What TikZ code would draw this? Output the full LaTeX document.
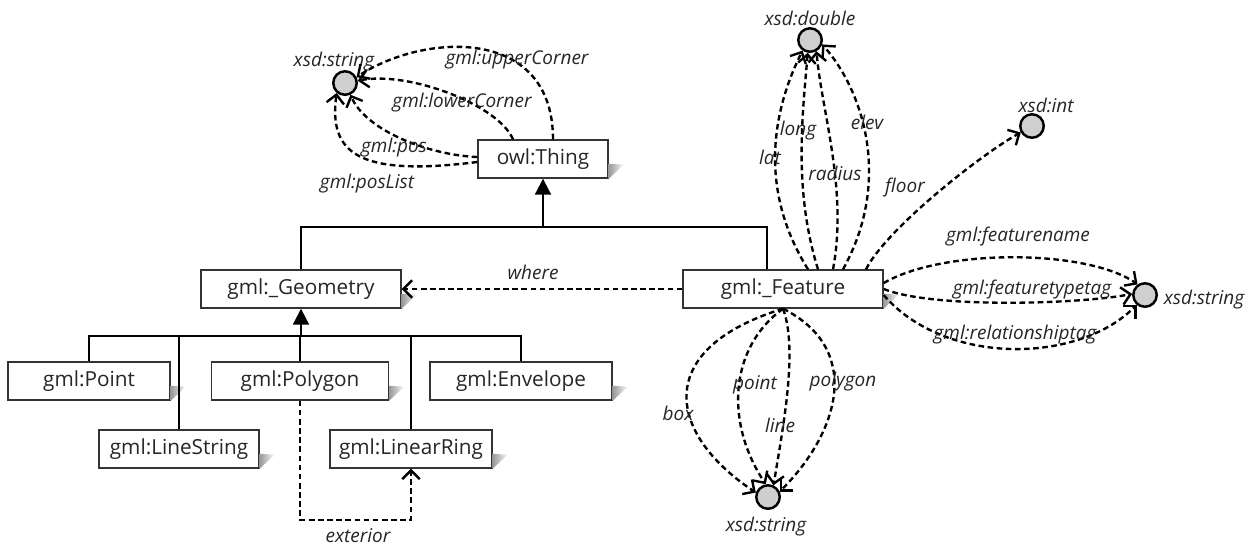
\documentclass[tikz,border=0pt]{standalone}
\usepackage{fontspec}
\setmainfont{Open Sans}
\usetikzlibrary{arrows.meta,calc}
\begin{document}
\begin{tikzpicture}[x=0.02cm,y=-0.02cm]
\tikzstyle{classbox} = [draw=black!80,line width=0.8pt,fill=white,minimum height=0.76cm,inner sep=2pt,font=\fontsize{11.8}{13}\selectfont,text=black!85] %classes
\tikzstyle{datanode} = [circle,draw=black,line width=1.4pt,fill=gray!38,minimum size=0.47cm,inner sep=0pt] %types xsd
\tikzstyle{prop} = [line width=1.35pt,dash pattern=on 3.2pt off 2pt,-{Straight Barb[length=5pt,width=10pt]}]
\tikzstyle{isa} = [line width=1.2pt]
\tikzstyle{lbl} = [font=\fontsize{10.8}{12}\selectfont\itshape,text=black!85,inner sep=1pt]
\tikzstyle{ombre} = [left color=gray!80,right color=gray!5]

\useasboundingbox (0,0) rectangle (1256,549);

%classes
\node[classbox,minimum width=2.6cm] (thing) at (543,159) {owl:Thing};
\node[classbox,minimum width=4cm] (geometry) at (301,289) {gml:\_Geometry};
\node[classbox,minimum width=4cm] (feature) at (783,289) {gml:\_Feature};
\node[classbox,minimum width=3.24cm] (point) at (89,381) {gml:Point};
\node[classbox,minimum width=3.54cm] (polygon) at (300,381) {gml:Polygon};
\node[classbox,minimum width=3.64cm] (envelope) at (521,381) {gml:Envelope};
\node[classbox,minimum width=3.2cm] (linestring) at (179,449) {gml:LineString};
\node[classbox,minimum width=3.24cm] (ring) at (411,449) {gml:LinearRing};

%ombres
\foreach \c in {thing,geometry,feature,point,polygon,envelope,linestring,ring}
  \shade[ombre] (\c.south east) -- ++(0,-15) -- ++(15,1) -- cycle;

%types de donnees
\node[datanode] (strA) at (345,83) {};
\node[datanode] (dbl) at (810,40) {};
\node[datanode] (int) at (1032,126) {};
\node[datanode] (strB) at (1145,295) {};
\node[datanode] (strC) at (768,497) {};
\node[lbl] (strAlbl) at (334,62) {xsd:string};
\node[lbl] (dbllbl) at (810,18) {xsd:double};
\node[lbl] (intlbl) at (1046,105) {xsd:int};
\node[lbl] (strBlbl) at (1204,300) {xsd:string};
\node[lbl] (strClbl) at (766,527) {xsd:string};

%heritage
\coordinate (topbar) at (543,227);
\coordinate (geobar) at (301,336);
\draw[isa,-{Triangle[length=9pt,width=9pt]}] (topbar) -- (thing.south);
\draw[isa] (geometry.north) |- (topbar) -| ($(feature.north)+(-16,0)$);
\draw[isa,-{Triangle[length=9pt,width=9pt]}] (geobar) -- (geometry.south);
\foreach \c in {point,linestring,polygon,ring,envelope}
  \draw[isa] (geobar) -| (\c.north);

%proprietes de owl:Thing
\draw[prop] ($(thing.north)+(10,0)$) .. controls +(0,-114) and +(67,-44) .. (strA.27);
\draw[prop] ($(thing.north)+(-30,0)$) .. controls +(-15,-35) and +(50,-10) .. (strA.10);
\draw[prop] ($(thing.west)+(0,-2)$) .. controls +(-50,-2) and +(15,35) .. (strA.-65);
\draw[prop] ($(thing.west)+(0,3)$) .. controls +(-120,15) and +(-8,60) .. (strA.-130);
\node[lbl] (upper) at (517,60) {gml:upperCorner};
\node[lbl] (lower) at (462,103) {gml:lowerCorner};
\node[lbl] (pos) at (394,148) {gml:pos};
\node[lbl] (poslist) at (367,184) {gml:posList};

%proprietes de gml:_Feature
\draw[prop] ($(feature.north)+(25,0)$) .. controls +(-50,-80) and +(-30,60) .. (dbl.-125);
\draw[prop] ($(feature.north)+(35,0)$) .. controls +(-25,-80) and +(-5,60) .. (dbl.-100);
\draw[prop] ($(feature.north)+(50,0)$) .. controls +(15,-80) and +(5,60) .. (dbl.-60);
\draw[prop] ($(feature.north)+(60,0)$) .. controls +(50,-90) and +(40,45) .. (dbl.-20);
\draw[prop] ($(feature.north)+(83,0)$) .. controls +(20,-40) and +(-40,22) .. (int.-150);
\node[lbl] (lat) at (770,157) {lat};
\node[lbl] (long) at (798,131) {long};
\node[lbl] (radius) at (835,173) {radius};
\node[lbl] (elev) at (867,122) {elev};
\node[lbl] (floor) at (905,188) {floor};

\draw[prop] ($(feature.east)+(0,-6)$) .. controls +(60,-35) and +(-50,-35) .. (strB.125);
\draw[prop] (feature.east) .. controls +(50,20) and +(-50,10) .. (strB.175);
\draw[prop] ($(feature.east)+(0,6)$) .. controls +(60,70) and +(-60,60) .. (strB.-130);
\node[lbl] (fname) at (1018,237) {gml:featurename};
\node[lbl] (ftype) at (1032,290) {gml:featuretypetag};
\node[lbl] (rtag) at (1015,335) {gml:relationshiptag};

\draw[prop] (feature.south) .. controls +(-130,40) and +(-90,-60) .. (strC.160);
\draw[prop] (feature.south) .. controls +(-55,40) and +(-40,-60) .. (strC.100);
\draw[prop] (feature.south) .. controls +(15,40) and +(10,-60) .. (strC.65);
\draw[prop] (feature.south) .. controls +(80,40) and +(60,-60) .. (strC.25);
\node[lbl] (boxlbl) at (678,413) {box};
\node[lbl] (ptlbl) at (755,385) {point};
\node[lbl] (linelbl) at (780,425) {line};
\node[lbl] (pollbl) at (843,382) {polygon};

%where et exterior
\draw[prop] (feature.west) -- (geometry.east);
\node[lbl] (where) at (533,272) {where};
\draw[prop] (polygon.south) -- ++(0,119) -| (ring.south);
\node[lbl] (exterior) at (358,536) {exterior};
\end{tikzpicture}
\end{document}
